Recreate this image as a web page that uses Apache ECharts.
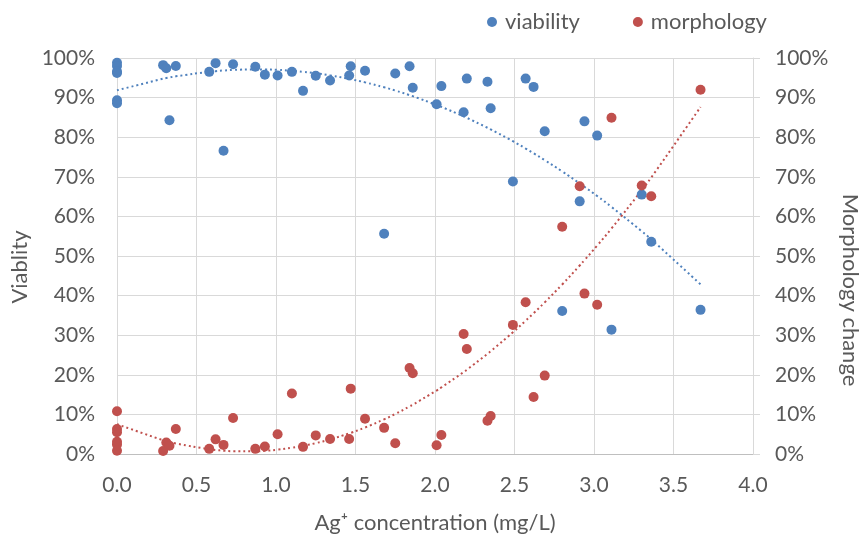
<!DOCTYPE html>
<html>
<head>
<meta charset="utf-8">
<script src="https://cdn.jsdelivr.net/npm/echarts@6/dist/echarts.min.js"></script>
<style>
  html, body { margin: 0; padding: 0; background: #fff; }
  #chart { width: 861px; height: 539px; }
</style>
</head>
<body>
<div id="chart"></div>
<script>
// Ag+ concentration (mg/L) for each sample
var conc = [0, 0, 0, 0, 0, 0,
    0.29, 0.31, 0.33, 0.37, 0.58, 0.62, 0.67, 0.73, 0.87, 0.93,
    1.01, 1.10, 1.17, 1.25, 1.34, 1.46, 1.47, 1.56, 1.68, 1.75, 1.84, 1.86,
    2.01, 2.04, 2.18, 2.20, 2.33, 2.35, 2.49, 2.57, 2.62, 2.69, 2.80, 2.91, 2.94,
    3.02, 3.11, 3.30, 3.36, 3.67];
// viability, %
var viability = [98.8, 98.0, 96.6, 96.2, 89.3, 88.6,
    98.2, 97.4, 84.3, 98.0, 96.5, 98.7, 76.6, 98.4, 97.8, 95.8,
    95.6, 96.5, 91.7, 95.5, 94.3, 95.6, 97.9, 96.8, 55.6, 96.1, 97.9, 92.5,
    88.3, 92.9, 86.3, 94.8, 94.0, 87.3, 68.8, 94.8, 92.7, 81.5, 36.1, 63.8, 84.0,
    80.4, 31.4, 65.5, 53.6, 36.4];
// morphology change, %
var morphology = [10.8, 6.3, 5.5, 3.1, 2.4, 0.8,
    0.75, 2.9, 2.1, 6.3, 1.3, 3.7, 2.3, 9.1, 1.3, 1.9,
    5.0, 15.3, 1.8, 4.7, 3.8, 3.8, 16.5, 8.9, 6.6, 2.7, 21.7, 20.4,
    2.2, 4.8, 30.3, 26.5, 8.4, 9.6, 32.6, 38.3, 14.4, 19.8, 57.4, 67.6, 40.5,
    37.7, 84.9, 67.8, 65.1, 92.0];

// 2nd order polynomial trend (least squares), like the spreadsheet trendline
function polyFit2(xs, ys) {
    var s = [0, 0, 0, 0, 0], t = [0, 0, 0];
    for (var i = 0; i < xs.length; i++) {
        var p = 1;
        for (var k = 0; k < 5; k++) { s[k] += p; if (k < 3) t[k] += p * ys[i]; p *= xs[i]; }
    }
    var m = [[s[0], s[1], s[2], t[0]], [s[1], s[2], s[3], t[1]], [s[2], s[3], s[4], t[2]]];
    for (var c = 0; c < 3; c++) {
        for (var r = c + 1; r < 3; r++) {
            var f = m[r][c] / m[c][c];
            for (var j = c; j < 4; j++) m[r][j] -= f * m[c][j];
        }
    }
    var a = [0, 0, 0];
    for (var r2 = 2; r2 >= 0; r2--) {
        var v = m[r2][3];
        for (var j2 = r2 + 1; j2 < 3; j2++) v -= m[r2][j2] * a[j2];
        a[r2] = v / m[r2][r2];
    }
    return a;
}

function trend(ys) {
    var a = polyFit2(conc, ys);
    var xsU = conc.filter(function (x, i) { return conc.indexOf(x) === i; }).sort(function (p, q) { return p - q; });
    return xsU.map(function (x) { return [x, a[0] + a[1] * x + a[2] * x * x]; });
}

function pairs(ys) {
    return conc.map(function (x, i) { return [x, ys[i]]; });
}

var blue = '#4F81BD';
var red = '#C0504D';
var txt = '#595959';
var font = 'Lato';

var yAxisBase = {
    type: 'value', min: 0, max: 100, interval: 10,
    nameLocation: 'middle',
    axisLabel: { color: txt, fontSize: 21, fontFamily: font, formatter: '{value}%' },
    splitLine: { lineStyle: { color: '#D9D9D9' } }
};

var myChart = echarts.init(document.getElementById('chart'));
myChart.setOption({
    animation: false,
    grid: { left: 117, right: 108, top: 58, bottom: 85, containLabel: false, outerBoundsMode: 'none' },
    legend: {
        data: ['viability', 'morphology'],
        left: 482, top: 6,
        icon: 'circle', itemWidth: 10, itemHeight: 10, itemGap: 53,
        textStyle: { color: txt, fontSize: 22, fontFamily: font, padding: [0, 0, 0, 3] }
    },
    xAxis: {
        type: 'value', min: 0, max: 4, interval: 0.5,
        name: 'Ag\u207A concentration (mg/L)', nameLocation: 'middle', nameGap: 58,
        nameTextStyle: { color: txt, fontSize: 22, fontFamily: font },
        axisLine: { lineStyle: { color: '#BFBFBF' } },
        axisTick: { show: false },
        axisLabel: { color: txt, fontSize: 21, fontFamily: font, margin: 21,
            formatter: function (v) { return v.toFixed(1); } },
        splitLine: { lineStyle: { color: '#D9D9D9' } }
    },
    yAxis: [
        Object.assign({}, yAxisBase, {
            name: 'Viablity', nameGap: 80, position: 'left',
            nameTextStyle: { color: txt, fontSize: 22, fontFamily: font, padding: [0, 22, 0, 0] },
            axisLine: { show: false }, axisTick: { show: false },
            axisLabel: Object.assign({}, yAxisBase.axisLabel, { margin: 22 })
        }),
        Object.assign({}, yAxisBase, {
            name: 'Morphology change', nameGap: 85, position: 'right', nameRotate: -90,
            nameTextStyle: { color: txt, fontSize: 22, fontFamily: font, padding: [0, 0, 0, 68] },
            axisLine: { show: true, lineStyle: { color: '#D9D9D9' } },
            axisTick: { show: true, length: 7, lineStyle: { color: '#D9D9D9' } },
            axisLabel: Object.assign({}, yAxisBase.axisLabel, { margin: 22 })
        })
    ],
    series: [
        {
            name: 'viability', type: 'scatter', yAxisIndex: 0,
            symbolSize: 10, itemStyle: { color: blue, opacity: 1 },
            data: pairs(viability), z: 3
        },
        {
            name: 'morphology', type: 'scatter', yAxisIndex: 1,
            symbolSize: 10, itemStyle: { color: red, opacity: 1 },
            data: pairs(morphology), z: 3
        },
        {
            name: 'viability trend', type: 'line', yAxisIndex: 0, smooth: true,
            showSymbol: false, silent: true, z: 2,
            lineStyle: { color: blue, width: 2, type: [2, 3] },
            data: trend(viability)
        },
        {
            name: 'morphology trend', type: 'line', yAxisIndex: 1, smooth: true,
            showSymbol: false, silent: true, z: 2,
            lineStyle: { color: red, width: 2, type: [2, 3] },
            data: trend(morphology)
        }
    ]
});
window.addEventListener('resize', function () { myChart.resize(); });
</script>
</body>
</html>
